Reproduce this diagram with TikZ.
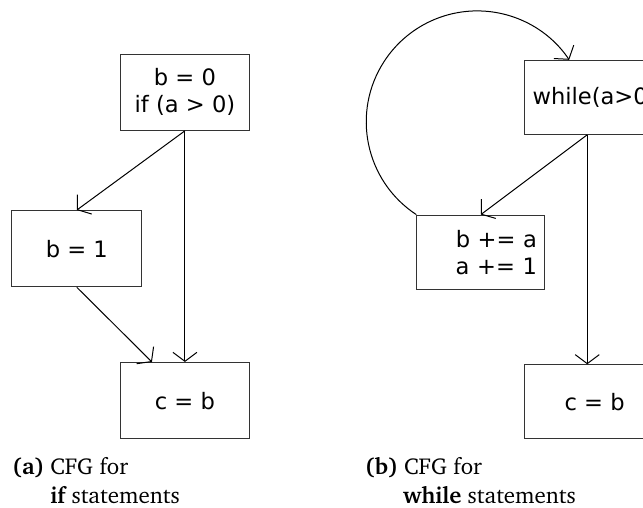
\documentclass[tikz,border=0pt]{standalone}
\usepackage[T1,TU]{fontenc}
\usepackage{fontspec}
\usetikzlibrary{arrows.meta, positioning, calc}
\newfontfamily\cfgfont{DejaVu Sans}
\newcommand{\capfont}{\fontencoding{T1}\fontfamily{bch}\selectfont}

\begin{document}
\begin{tikzpicture}[
  every node/.style={font=\cfgfont\fontsize{11.3}{13.5}\selectfont, align=center},
  blk/.style={draw=black!80, line width=0.5pt, minimum width=2.28cm, minimum height=1.34cm, inner sep=2pt},
  wblk/.style={blk, minimum width=2.46cm, minimum height=1.30cm},
  arr/.style={-{Straight Barb[length=4.5pt, width=12pt]}, line width=0.5pt},
  subcap/.style={font=\capfont\fontsize{11.5}{14.5}\selectfont, align=left, anchor=north west, inner sep=0pt}
]
  \clip (0,0) rectangle (11.30, 8.91);

  % if statements
  \node[blk] (if0) at (3.25, 7.29) {b = 0\\if (a > 0)};
  \node[blk] (if1) at (1.35, 4.54) {b = 1};
  \node[blk] (ifend) at (3.25, 1.87) {c = b};

  \draw[arr] (if0.south) -- (if1.north);
  \draw[arr] (if0.south) -- (ifend.north);
  \draw[arr] (if1.south) -- ($(ifend.north)+(-0.58,0)$);

  \node[subcap] (capa) at (0.21, 0.88) {\makebox[19pt][l]{\textbf{(a)}}CFG for\\\hspace*{19pt}\textbf{if} statements};

  % while statements
  \node[wblk, anchor=west] (wh0) at (9.21, 7.20) {while(a>0)};
  \node[blk, minimum width=2.25cm, minimum height=1.30cm, inner xsep=4pt, text width=1.97cm, align=right] (wh1) at (8.45, 4.48) {b += a\\a += 1};
  \node[wblk, anchor=west] (whend) at (9.21, 1.85) {c = b};

  \coordinate (whout) at ($(wh0.south west)+(1.11,0)$);
  \draw[arr] (whout) -- (wh1.north);
  \draw[arr] (whout) -- (whout |- whend.north);
  \draw[arr] (wh1.north west) arc[start angle=236.7, end angle=34, radius=1.95];

  \node[subcap] (capb) at (6.41, 0.88) {\makebox[19.5pt][l]{\textbf{(b)}}CFG for\\\hspace*{19pt}\textbf{while} statements};
\end{tikzpicture}
\end{document}
